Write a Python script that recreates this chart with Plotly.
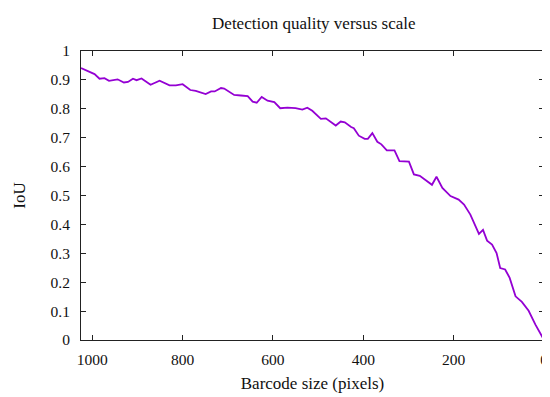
import plotly.graph_objects as go

barcode_size = [1025, 995, 984, 973, 963, 944, 930, 921, 910, 902, 891, 871, 851, 829, 815, 800,
                783, 771, 749, 737, 729, 715, 708, 686, 671, 656, 645, 636, 625, 612, 597, 584,
                568, 550, 535, 524, 513, 494, 483, 461, 450, 441, 427, 421, 410, 397, 390, 380,
                369, 360, 348, 331, 320, 299, 288, 275, 248, 238, 225, 207, 189, 177, 163, 144,
                135, 126, 115, 105, 97, 86, 76, 63, 49, 34, 19, 0]
iou = [0.941, 0.920, 0.904, 0.906, 0.897, 0.902, 0.891, 0.893, 0.904, 0.899, 0.905, 0.883, 0.897, 0.881, 0.881, 0.885,
       0.865, 0.862, 0.851, 0.860, 0.860, 0.872, 0.870, 0.848, 0.846, 0.844, 0.825, 0.821, 0.841, 0.828, 0.823, 0.802,
       0.804, 0.802, 0.797, 0.804, 0.793, 0.765, 0.767, 0.742, 0.756, 0.753, 0.737, 0.733, 0.707, 0.696, 0.696, 0.716,
       0.686, 0.677, 0.656, 0.656, 0.619, 0.617, 0.573, 0.568, 0.537, 0.565, 0.526, 0.498, 0.486, 0.469, 0.434, 0.367,
       0.381, 0.344, 0.330, 0.301, 0.249, 0.244, 0.215, 0.151, 0.132, 0.101, 0.053, 0.0]

x_ticks = [1000, 800, 600, 400, 200, 0]
y_ticks = [0, 0.1, 0.2, 0.3, 0.4, 0.5, 0.6, 0.7, 0.8, 0.9, 1]
y_tick_labels = ["0", "0.1", "0.2", "0.3", "0.4", "0.5", "0.6", "0.7", "0.8", "0.9", "1"]

FONT = "Liberation Serif"

fig = go.Figure()
fig.add_trace(go.Scatter(x=barcode_size, y=iou, mode="lines",
                         line=dict(color="#9400d3", width=1.8), showlegend=False))

axis_common = dict(showline=True, linecolor="#222222", linewidth=1, mirror="allticks",
                   ticks="inside", ticklen=5, tickcolor="#222222", showgrid=False, zeroline=False,
                   automargin=False,
                   tickfont=dict(family=FONT, size=15.5, color="#111111"))

fig.update_layout(
    width=550, height=397,
    margin=dict(l=73, r=14, t=43, b=65),
    paper_bgcolor="white", plot_bgcolor="white",
    font=dict(family=FONT, color="#111111"),
    title=dict(text="Detection quality versus scale", x=0.556, xanchor="center", y=0.962, yanchor="middle",
               font=dict(family=FONT, size=17, color="#111111")),
    xaxis=dict(range=[1025, 0], tickvals=x_ticks, ticklabelstandoff=5,
               title=dict(text="Barcode size (pixels)", font=dict(family=FONT, size=17), standoff=10),
               **axis_common),
    yaxis=dict(range=[0, 1], tickvals=y_ticks, ticktext=y_tick_labels, ticklabelstandoff=7,
               title=dict(text="IoU", font=dict(family=FONT, size=17), standoff=20),
               **axis_common),
)

fig.write_html("out.html")
